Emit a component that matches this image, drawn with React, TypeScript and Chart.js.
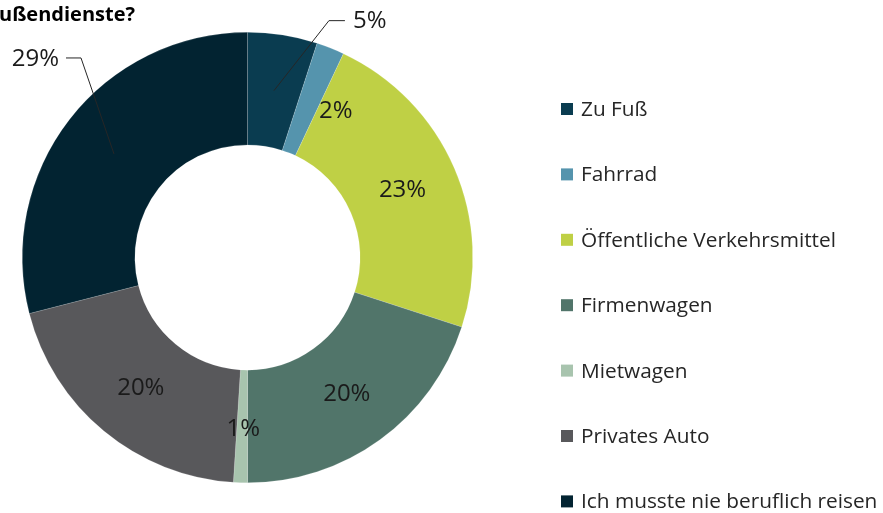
import React, { useEffect, useRef } from "react";
import { Chart, registerables } from "chart.js";

Chart.register(...registerables);

const categories = [
  "Zu Fuß",
  "Fahrrad",
  "Öffentliche Verkehrsmittel",
  "Firmenwagen",
  "Mietwagen",
  "Privates Auto",
  "Ich musste nie beruflich reisen",
];
const values = [5, 2, 23, 20, 1, 20, 29];
const valueLabels = ["5%", "2%", "23%", "20%", "1%", "20%", "29%"];
const colors = ["#0a3c50", "#5594ad", "#bfd045", "#51756a", "#a8c4ae", "#58585b", "#022331"];
const titleText = "ußendienste?";

// label placement: inside (with nudge) or with a leader line
const labelLayout: any[] = [
  { leader: true, ex: 55, ey: -70, run: 16, gap: 8 },
  { dx: 26, dy: 11 },
  { dx: 0, dy: 0 },
  { dx: 0, dy: 0 },
  { dx: 1, dy: 3 },
  { dx: 1, dy: 0 },
  { leader: true, ex: -33, ey: -96, run: -15, gap: 7 },
];

const FONT = "'Open Sans', 'Noto Sans', sans-serif";

const overlayPlugin = {
  id: "overlay",
  afterDraw(chart: any) {
    const ctx = chart.ctx;
    ctx.save();
    // title (cropped)
    ctx.fillStyle = "#000000";
    ctx.font = `bold 20px ${FONT}`;
    ctx.textAlign = "left";
    ctx.textBaseline = "alphabetic";
    ctx.fillText(titleText, -1, 21);

    // legend
    const lx = 561;
    const ly0 = 109;
    const lstep = 65.4;
    ctx.font = `20.8px ${FONT}`;
    ctx.textBaseline = "middle";
    categories.forEach((c, i) => {
      const y = ly0 + i * lstep;
      ctx.fillStyle = colors[i];
      ctx.fillRect(lx, y - 6, 12, 12);
      ctx.fillStyle = "#262626";
      ctx.fillText(c, lx + 20, y + 1);
    });

    // data labels
    const meta = chart.getDatasetMeta(0);
    ctx.font = `24px ${FONT}`;
    meta.data.forEach((arc: any, i: number) => {
      const p = arc.tooltipPosition();
      const L = labelLayout[i];
      ctx.fillStyle = "#1a1a1a";
      if (L.leader) {
        const ex = p.x + L.ex;
        const ey = p.y + L.ey;
        ctx.strokeStyle = "#262626";
        ctx.lineWidth = 1;
        ctx.beginPath();
        ctx.moveTo(p.x, p.y);
        ctx.lineTo(ex, ey);
        ctx.lineTo(ex + L.run, ey);
        ctx.stroke();
        ctx.textAlign = L.run > 0 ? "left" : "right";
        ctx.textBaseline = "middle";
        const tx = ex + L.run + (L.run > 0 ? L.gap : -L.gap);
        ctx.fillText(valueLabels[i], tx, ey + 1);
      } else {
        ctx.textAlign = "center";
        ctx.textBaseline = "middle";
        ctx.fillText(valueLabels[i], p.x + L.dx, p.y + L.dy);
      }
    });
    ctx.restore();
  },
};

export default function App() {
  const ref = useRef<HTMLCanvasElement | null>(null);
  useEffect(() => {
    if (!ref.current) return;
    const chart = new Chart(ref.current, {
      type: "doughnut",
      data: {
        labels: categories,
        datasets: [
          {
            data: values,
            backgroundColor: colors,
            borderColor: "rgba(255,255,255,0.3)",
            borderWidth: 0.5,
          },
        ],
      },
      options: {
        responsive: false,
        animation: false,
        cutout: "50%",
        layout: { padding: { left: 22, top: 32, right: 410, bottom: 30 } },
        plugins: {
          legend: { display: false },
          tooltip: { enabled: false },
          title: { display: false },
        },
      },
      plugins: [overlayPlugin],
    });
    return () => chart.destroy();
  }, []);
  return (
    <div style={{ position: "absolute", left: 0, top: 0, width: 883, height: 513, background: "#fff" }}>
      <canvas ref={ref} width={883} height={513} style={{ width: 883, height: 513, display: "block" }} />
    </div>
  );
}
